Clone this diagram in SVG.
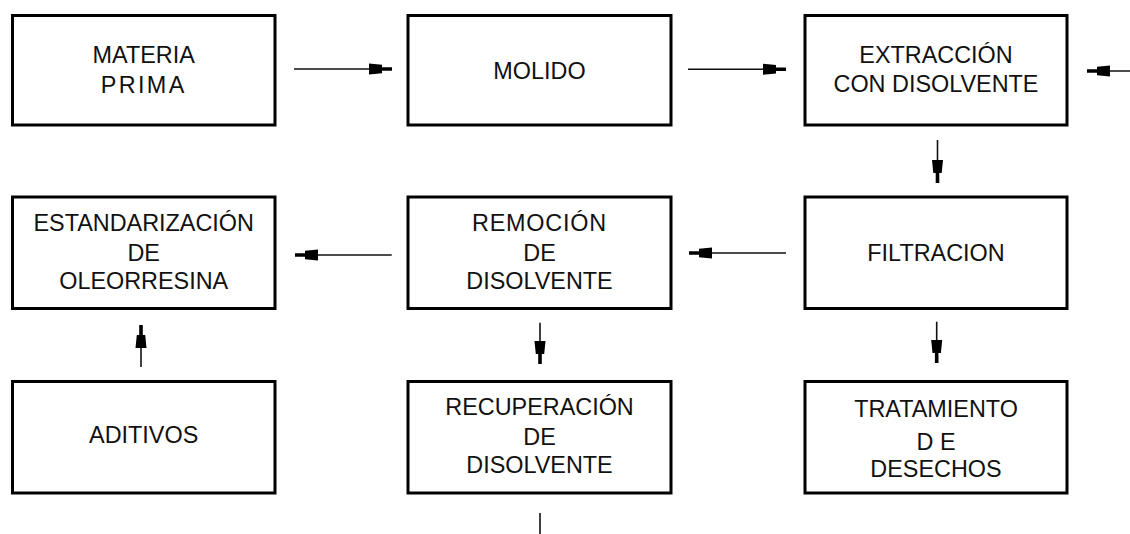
<svg xmlns="http://www.w3.org/2000/svg" width="1130" height="534" viewBox="0 0 1130 534">
<defs>
<style>
.box{fill:#fff;stroke:#000;stroke-width:3}
.t{font-family:"Liberation Sans",Arial,sans-serif;font-size:23.4px;fill:#111;text-anchor:middle}
.c{stroke:#111;stroke-width:1.6;fill:none}
</style>
<marker id="ah" markerUnits="userSpaceOnUse" markerWidth="30" markerHeight="14" refX="0" refY="0" viewBox="-25 -7 27 14" orient="auto" overflow="visible">
<path d="M-23,-5.5 L-10,-4.2 L-10,-1.8 L0,-1.8 L0,1.8 L-10,1.8 L-10,4.2 L-23,5.5 Z" fill="#000"/>
</marker>
</defs>
<rect width="1130" height="534" fill="#fff"/>
<g id="materia-prima">
<rect class="box" x="12.5" y="15.5" width="262.5" height="109.5"/>
<text class="t" x="143.7" y="63">MATERIA</text>
<text class="t" x="143.7" y="93" letter-spacing="2.4">PRIMA</text>
</g>
<g id="molido">
<rect class="box" x="408" y="15.5" width="263" height="109.5"/>
<text class="t" x="539.5" y="78.5">MOLIDO</text>
</g>
<g id="extraccion">
<rect class="box" x="805" y="15.5" width="262" height="109.5"/>
<text class="t" x="936" y="63.3">EXTRACCIÓN</text>
<text class="t" x="936" y="91.7">CON DISOLVENTE</text>
</g>
<g id="estandarizacion">
<rect class="box" x="12.5" y="197" width="262.5" height="111.5"/>
<text class="t" x="143.7" y="231">ESTANDARIZACIÓN</text>
<text class="t" x="143.7" y="261">DE</text>
<text class="t" x="143.7" y="288.5">OLEORRESINA</text>
</g>
<g id="remocion">
<rect class="box" x="408" y="197" width="263" height="111.5"/>
<text class="t" x="539.5" y="230.7" letter-spacing="0.8">REMOCIÓN</text>
<text class="t" x="539.5" y="261">DE</text>
<text class="t" x="539.5" y="289.3">DISOLVENTE</text>
</g>
<g id="filtracion">
<rect class="box" x="805" y="197" width="262" height="111.5"/>
<text class="t" x="936" y="261">FILTRACION</text>
</g>
<g id="aditivos">
<rect class="box" x="12.5" y="381.5" width="262.5" height="111.5"/>
<text class="t" x="143.7" y="443.3">ADITIVOS</text>
</g>
<g id="recuperacion">
<rect class="box" x="408" y="381.5" width="263" height="111.5"/>
<text class="t" x="539.5" y="415">RECUPERACIÓN</text>
<text class="t" x="539.5" y="445">DE</text>
<text class="t" x="539.5" y="473.3">DISOLVENTE</text>
</g>
<g id="tratamiento">
<rect class="box" x="805" y="381.5" width="262" height="111.5"/>
<text class="t" x="936" y="416.6">TRATAMIENTO</text>
<text class="t" x="936" y="450">D E</text>
<text class="t" x="936" y="476.6">DESECHOS</text>
</g>
<g id="connectors">
<path class="c" d="M294,69 H392" marker-end="url(#ah)"/>
<path class="c" d="M688,69.3 H786" marker-end="url(#ah)"/>
<path class="c" d="M1130,71 H1087" marker-end="url(#ah)"/>
<path class="c" d="M937.5,140 V183" marker-end="url(#ah)"/>
<path class="c" d="M786,253 H689" marker-end="url(#ah)"/>
<path class="c" d="M391.7,255 H295" marker-end="url(#ah)"/>
<path class="c" d="M141,367 V325" marker-end="url(#ah)"/>
<path class="c" d="M540,322.7 V364" marker-end="url(#ah)"/>
<path class="c" d="M936.7,321.7 V363" marker-end="url(#ah)"/>
<path class="c" d="M540,513 V534"/>
</g>
</svg>
